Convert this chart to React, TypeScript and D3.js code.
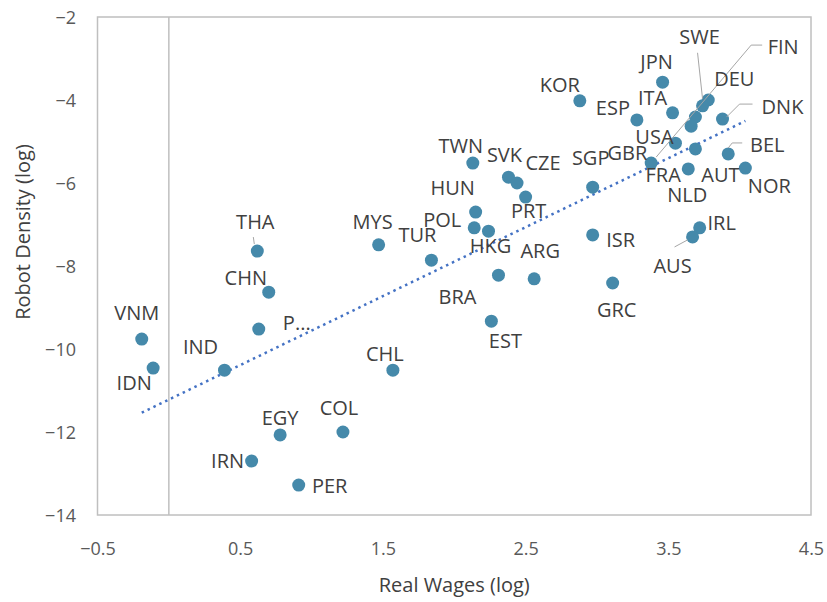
import * as d3 from "d3";
import React, { useRef, useEffect } from "react";

// country codes with log real wages (x) and log robot density (y)
const countries = [
  "VNM", "IDN", "IND", "THA", "CHN", "P...", "IRN", "EGY", "PER", "COL", "CHL",
  "MYS", "TUR", "TWN", "HUN", "POL", "HKG", "BRA", "EST", "ARG", "SVK", "CZE",
  "PRT", "SGP", "ISR", "GRC", "KOR", "JPN", "ESP", "ITA", "DEU", "SWE", "GBR",
  "FRA", "USA", "AUT", "FIN", "NLD", "DNK", "BEL", "NOR", "IRL", "AUS",
];
const realWages = [
  -0.19, -0.11, 0.39, 0.62, 0.70, 0.63, 0.58, 0.78, 0.91, 1.22, 1.57,
  1.47, 1.84, 2.13, 2.15, 2.14, 2.24, 2.31, 2.26, 2.56, 2.38, 2.44,
  2.50, 2.97, 2.97, 3.11, 2.88, 3.46, 3.28, 3.53, 3.78, 3.74, 3.69,
  3.66, 3.55, 3.69, 3.38, 3.64, 3.88, 3.92, 4.04, 3.72, 3.67,
];
const robotDensity = [
  -9.76, -10.46, -10.51, -7.64, -8.63, -9.52, -12.70, -12.07, -13.28, -12.00, -10.51,
  -7.49, -7.86, -5.52, -6.70, -7.08, -7.16, -8.22, -9.33, -8.31, -5.86, -6.00,
  -6.34, -6.10, -7.25, -8.41, -4.02, -3.57, -4.48, -4.31, -4.00, -4.14, -4.41,
  -4.63, -5.04, -5.18, -5.52, -5.66, -4.46, -5.30, -5.64, -7.08, -7.30,
];
const xTicks = [-0.5, 0.5, 1.5, 2.5, 3.5, 4.5];
const yTicks = [-14, -12, -10, -8, -6, -4, -2];

// label placement, pixel offset of the label centre from its marker
const labelOffset: Record<string, [number, number]> = {
  VNM: [-5, -26], IDN: [-19, 15], IND: [-24, -23], THA: [-2, -29], CHN: [-23, -14],
  "P...": [38, -6], IRN: [-24, 0], EGY: [0, -17], PER: [31, 1], COL: [-4, -24],
  CHL: [-8, -16], MYS: [-6, -23], TUR: [-14, -25], TWN: [-12, -17], HUN: [-23, -24],
  POL: [-32, -8], HKG: [2, 15], BRA: [-41, 22], EST: [14, 20], ARG: [6, -28],
  SVK: [-4, -22], CZE: [26, -20], PRT: [3, 14], SGP: [-2, -29], ISR: [28, 5],
  GRC: [4, 27], KOR: [-20, -16], JPN: [-6, -20], ESP: [-24, -12], ITA: [-20, -15],
  DEU: [26, -21], SWE: [-3, -69], GBR: [-68, 36], FRA: [-28, 49], USA: [-21, -6],
  AUT: [25, 26], FIN: [132, -116], NLD: [-1, 26], DNK: [60, -12], BEL: [39, -9],
  NOR: [24, 18], IRL: [22, -5], AUS: [-20, 29],
};
// leader lines, offsets from the marker
const leaders: Record<string, [number, number][]> = {
  THA: [[-4, -14], [-3, -7]],
  SWE: [[-5, -53], [0, -7]],
  FIN: [[111, -118], [100, -118], [5, -6]],
  DNK: [[30, -15], [17, -15], [4, -2]],
  BEL: [[14, -11], [4, -11], [0, -6]],
  AUS: [[-18, 10], [-5, 3]],
};

const W = 827, H = 602;
const left = 97.5, right = 811, top = 17, bottom = 515;
const font = "'Open Sans', 'Segoe UI', sans-serif";

export default function App() {
  const ref = useRef<SVGSVGElement>(null);

  useEffect(() => {
    const svg = d3.select(ref.current);
    svg.selectAll("*").remove();

    const x = d3.scaleLinear().domain([-0.5, 4.5]).range([left, right]);
    const y = d3.scaleLinear().domain([-14, -2]).range([bottom, top]);

    const pts = countries.map((c, i) => ({ c, x: realWages[i], y: robotDensity[i] }));

    svg.append("rect").attr("width", W).attr("height", H).attr("fill", "#fff");

    svg.append("rect")
      .attr("x", left).attr("y", top)
      .attr("width", right - left).attr("height", bottom - top)
      .attr("fill", "none").attr("stroke", "#bfbfbf").attr("stroke-width", 1.5);

    // vertical axis line at x = 0
    svg.append("line")
      .attr("x1", x(0)).attr("x2", x(0)).attr("y1", top).attr("y2", bottom)
      .attr("stroke", "#bfbfbf").attr("stroke-width", 1.5);

    const xa = svg.append("g")
      .attr("transform", `translate(0,${bottom})`)
      .call(d3.axisBottom(x).tickValues(xTicks).tickSize(0).tickFormat(d3.format(".1f")));
    xa.select(".domain").remove();
    xa.selectAll("text").attr("y", 39.5).attr("dy", 0)
      .attr("font-family", font).attr("font-size", 18).attr("fill", "#595959");

    const ya = svg.append("g")
      .attr("transform", `translate(${left},0)`)
      .call(d3.axisLeft(y).tickValues(yTicks).tickSize(0).tickPadding(21.5));
    ya.select(".domain").remove();
    ya.selectAll("text").attr("dy", "0.36em")
      .attr("font-family", font).attr("font-size", 18).attr("fill", "#595959");

    svg.append("text")
      .attr("x", (left + right) / 2).attr("y", 592)
      .attr("text-anchor", "middle")
      .attr("font-family", font).attr("font-size", 20).attr("fill", "#404040")
      .text("Real Wages (log)");

    svg.append("text")
      .attr("transform", `translate(30,232) rotate(-90)`)
      .attr("text-anchor", "middle")
      .attr("font-family", font).attr("font-size", 20).attr("fill", "#404040")
      .text("Robot Density (log)");

    // linear trend line (least squares)
    const mx = d3.mean(pts, (d) => d.x)!;
    const my = d3.mean(pts, (d) => d.y)!;
    const sxy = d3.sum(pts, (d) => (d.x - mx) * (d.y - my));
    const sxx = d3.sum(pts, (d) => (d.x - mx) ** 2);
    const b = sxy / sxx, a = my - b * mx;
    const [x0, x1] = d3.extent(pts, (d) => d.x) as [number, number];
    svg.append("path")
      .attr("d", d3.line()([[x(x0), y(a + b * x0)], [x(x1), y(a + b * x1)]]))
      .attr("stroke", "#4472c4").attr("stroke-width", 2.5)
      .attr("stroke-dasharray", "2.5 4").attr("fill", "none");

    svg.append("g").selectAll("circle")
      .data(pts).enter().append("circle")
      .attr("cx", (d) => x(d.x)).attr("cy", (d) => y(d.y)).attr("r", 6.5)
      .attr("fill", "#4589aa");

    svg.append("g").selectAll("path")
      .data(pts.filter((d) => leaders[d.c])).enter().append("path")
      .attr("d", (d) => d3.line()(leaders[d.c].map(([dx, dy]) => [x(d.x) + dx, y(d.y) + dy])))
      .attr("fill", "none").attr("stroke", "#a6a6a6").attr("stroke-width", 1);

    svg.append("g").selectAll("text")
      .data(pts).enter().append("text")
      .attr("x", (d) => x(d.x) + labelOffset[d.c][0])
      .attr("y", (d) => y(d.y) + labelOffset[d.c][1])
      .attr("dy", "0.36em").attr("text-anchor", "middle")
      .attr("font-family", font).attr("font-size", 20).attr("fill", "#404040")
      .text((d) => d.c);
  }, []);

  return (
    <div style={{ position: "absolute", left: 0, top: 0 }}>
      <svg ref={ref} width={W} height={H} style={{ display: "block" }}></svg>
    </div>
  );
}
